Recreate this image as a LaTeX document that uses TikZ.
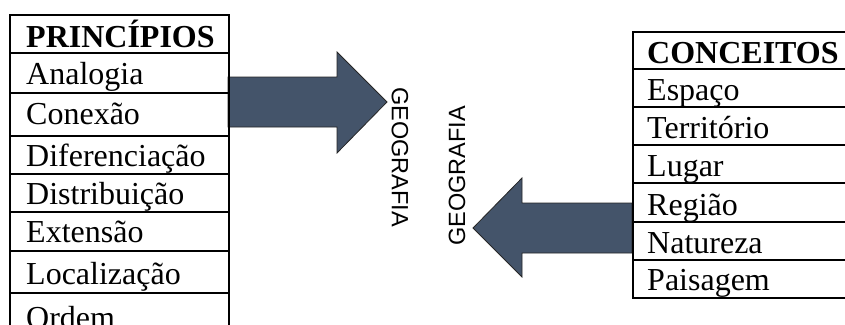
\documentclass[tikz,border=0pt]{standalone}
\usepackage{fontspec}
\setmainfont{Liberation Serif}
\newfontfamily\arialf{Liberation Sans}
\definecolor{arrowfill}{HTML}{44546A}
\begin{document}
\begin{tikzpicture}[x=1pt,y=-1pt,
  cell/.style={anchor=base west, inner sep=0pt, font=\fontsize{32}{32}\selectfont},
  headcell/.style={anchor=base west, inner sep=0pt, font=\fontsize{32}{32}\selectfont\bfseries},
  grid/.style={line width=1.2pt, draw=black},
  bigarrow/.style={fill=arrowfill, draw=black!85, line width=0.8pt, line join=miter},
  geo/.style={font=\arialf\fontsize{23.5}{23.5}\selectfont, inner sep=0pt}]
\useasboundingbox (0,0) rectangle (845,324);
\clip (0,0) rectangle (845,324);
\fill[white] (0,0) rectangle (845,324);

% arrows
\draw[bigarrow] (228,77) -- (337,77) -- (337,52) -- (387,102) -- (337,153) -- (337,127) -- (228,127) -- cycle;
\draw[bigarrow] (632,203) -- (522,203) -- (522,178) -- (473,228) -- (522,277) -- (522,253) -- (632,253) -- cycle;

% left table
\draw[grid] (10,15) rectangle (229,340);
\foreach \yy in {53,93,136,174,212,251,293} \draw[grid] (10,\yy) -- (229,\yy);
\node[headcell] (p0) at (26,47) {PRINCÍPIOS};
\node[cell] (p1) at (26,84) {Analogia};
\node[cell] (p2) at (26,124) {Conexão};
\node[cell] (p3) at (26,166) {Diferenciação};
\node[cell] (p4) at (26,204) {Distribuição};
\node[cell] (p5) at (26,242) {Extensão};
\node[cell] (p6) at (26,284) {Localização};
\node[cell] (p7) at (26,328) {Ordem};

% right table
\draw[grid] (633,32) rectangle (870,298);
\foreach \yy in {69,107,145,183,222,260} \draw[grid] (633,\yy) -- (870,\yy);
\node[headcell] (c0) at (647,63) {CONCEITOS};
\node[cell] (c1) at (647,100) {Espaço};
\node[cell] (c2) at (647,138) {Território};
\node[cell] (c3) at (647,176) {Lugar};
\node[cell] (c4) at (647,215) {Região};
\node[cell] (c5) at (647,253) {Natureza};
\node[cell] (c6) at (647,290) {Paisagem};

% labels
\node[geo, rotate=-90] (geo1) at (400,157) {GEOGRAFIA};
\node[geo, rotate=90] (geo2) at (457,176) {GEOGRAFIA};
\end{tikzpicture}
\end{document}
